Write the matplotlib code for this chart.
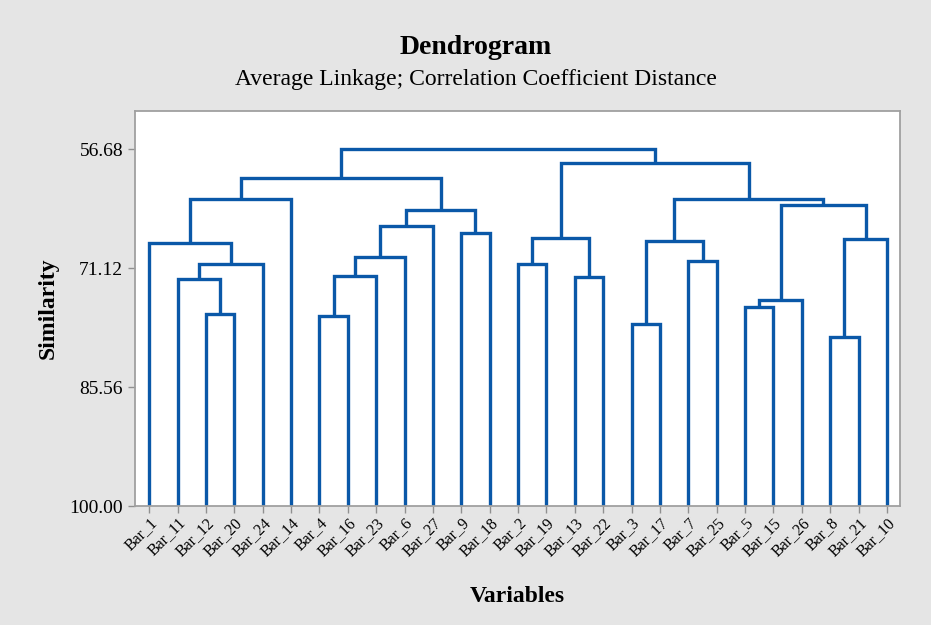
import matplotlib.pyplot as plt

leaves = ['Bar_1', 'Bar_11', 'Bar_12', 'Bar_20', 'Bar_24', 'Bar_14', 'Bar_4', 'Bar_16', 'Bar_23',
          'Bar_6', 'Bar_27', 'Bar_9', 'Bar_18', 'Bar_2', 'Bar_19', 'Bar_13', 'Bar_22', 'Bar_3',
          'Bar_17', 'Bar_7', 'Bar_25', 'Bar_5', 'Bar_15', 'Bar_26', 'Bar_8', 'Bar_21', 'Bar_10']

# merges: nodes 0..26 are leaves (in display order), merge k creates node 27 + k
merge_left = ['Bar_12', 'Bar_11', 28, 'Bar_1', 30, 'Bar_4', 32, 33, 34, 'Bar_9', 35, 31,
              'Bar_2', 'Bar_13', 39, 'Bar_3', 'Bar_7', 42, 'Bar_5', 45, 'Bar_8', 47, 46, 44, 41, 38]
merge_right = ['Bar_20', 27, 'Bar_24', 29, 'Bar_14', 'Bar_16', 'Bar_23', 'Bar_6', 'Bar_27', 'Bar_18',
               36, 37, 'Bar_19', 'Bar_22', 40, 'Bar_17', 'Bar_25', 43, 'Bar_15', 'Bar_26', 'Bar_21',
               'Bar_10', 48, 49, 50, 51]
merge_sim = [76.68, 72.43, 70.61, 68.06, 62.72, 76.93, 72.03, 69.76, 65.96, 66.85, 64.05, 60.13,
             70.65, 72.15, 67.42, 77.93, 70.25, 67.82, 75.80, 74.98, 79.44, 67.61, 63.44, 62.75,
             58.31, 56.68]

y_ticks = [56.68, 71.12, 85.56, 100.00]

color = '#0a58a8'
serif = ['Liberation Serif', 'DejaVu Serif']

fig = plt.figure(figsize=(9.31, 6.25), dpi=100)
fig.patch.set_facecolor('#e5e5e5')
ax = fig.add_axes([0.145, 0.19, 0.822, 0.633])
ax.set_facecolor('white')

xpos = {}
ypos = {}
for i, name in enumerate(leaves):
    xpos[i] = i
    ypos[i] = 100.0


def node_id(n):
    if isinstance(n, str):
        return leaves.index(n)
    return n


for k, (a, b, s) in enumerate(zip(merge_left, merge_right, merge_sim)):
    a = node_id(a)
    b = node_id(b)
    xa, xb = xpos[a], xpos[b]
    ax.plot([xa, xa, xb, xb], [ypos[a], s, s, ypos[b]], color=color, lw=2.4,
            solid_joinstyle='miter', solid_capstyle='butt')
    xpos[27 + k] = (xa + xb) / 2
    ypos[27 + k] = s

ax.set_xlim(-0.5, 26.47)
ax.set_ylim(100, 52.0)
ax.set_yticks(y_ticks)
ax.set_yticklabels(['%.2f' % v for v in y_ticks], fontfamily=serif, fontsize=14)
ax.set_xticks(range(len(leaves)))
ax.set_xticklabels(leaves, rotation=45, ha='right', va='top', rotation_mode='anchor',
                   fontfamily=serif, fontsize=11.5)
ax.tick_params(axis='both', colors='#909090', length=5, width=1, labelcolor='black')
ax.tick_params(axis='x', pad=1)
for sp in ax.spines.values():
    sp.set_color('#a0a0a0')
    sp.set_linewidth(1.3)

ax.set_ylabel('Similarity', fontfamily=serif, fontsize=17, fontweight='bold', labelpad=8)
fig.text(0.556, 0.046, 'Variables', ha='center', va='center', fontfamily=serif,
         fontsize=17, fontweight='bold')
fig.text(0.511, 0.924, 'Dendrogram', ha='center', va='center', fontfamily=serif,
         fontsize=20, fontweight='bold')
fig.text(0.511, 0.873, 'Average Linkage; Correlation Coefficient Distance', ha='center',
         va='center', fontfamily=serif, fontsize=17)

plt.savefig('out.png', dpi=100, facecolor=fig.get_facecolor())
